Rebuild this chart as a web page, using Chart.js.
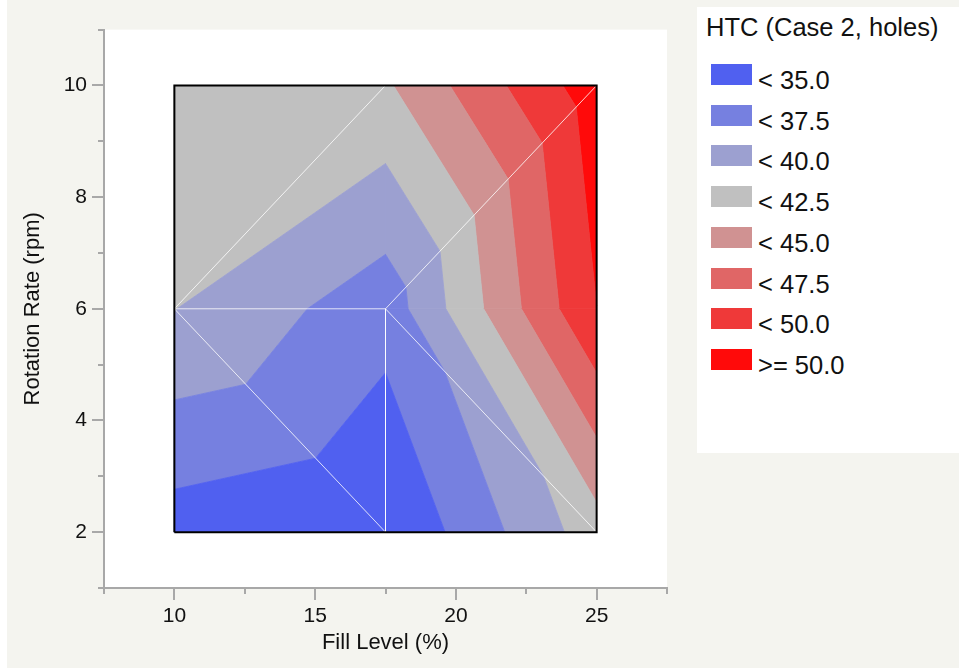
<!DOCTYPE html>
<html>
<head>
<meta charset="utf-8">
<title>HTC contour</title>
<script src="https://cdn.jsdelivr.net/npm/chart.js@4.4.1/dist/chart.umd.min.js"></script>
<style>
  html, body { margin: 0; padding: 0; width: 959px; height: 669px; overflow: hidden;
    background: #f4f4ef; font-family: "Liberation Sans", Arial, Helvetica, sans-serif; }
  #edgeL { position: absolute; left: 0; top: 0; width: 7px; height: 669px; background: #fff; }
  #edgeB { position: absolute; left: 0; top: 668px; width: 959px; height: 1px; background: #fff; }
  #wrap { position: absolute; left: 0; top: 0; width: 697px; height: 669px; }
  #legend { position: absolute; left: 697px; top: 7px; width: 262px; height: 446px; background: #fff; color: #111; }
  .lg-title { position: absolute; left: 9px; top: 8px; font-size: 25.5px; line-height: 25px; white-space: nowrap; }
  .lg-sw { position: absolute; left: 14px; width: 41px; height: 21px; }
  .lg-tx { position: absolute; left: 61px; font-size: 25.5px; line-height: 25px; white-space: nowrap; }
</style>
</head>
<body>
<div id="edgeL"></div>
<div id="edgeB"></div>
<div id="wrap"><canvas id="chart" width="697" height="669"></canvas></div>
<div id="legend"></div>
<script>
// Measured grid: fill level (%) across, rotation rate (rpm) down
const fillLevels = [10, 17.5, 25];
const rotationRates = [2, 6, 10];
const htcAt2rpm  = [33.8, 32.5, 41.35];
const htcAt6rpm  = [40.05, 36.0, 49.98];
const htcAt10rpm = [41.5, 42.15, 51.5];

// Contour bands
const contourLevels = [35, 37.5, 40, 42.5, 45, 47.5, 50];
const bandColors = ['#5060f0', '#7680e0', '#9ca0d0', '#c0c0c0', '#d09292', '#e06666', '#ef3939', '#ff0a0a'];

// Axis ticks
const xMajorTicks = [10, 15, 20, 25];
const xMinorTicks = [7.5, 12.5, 17.5, 22.5, 27.5];
const yMajorTicks = [2, 4, 6, 8, 10];
const yMinorTicks = [1, 3, 5, 7, 9, 11];

// Triangulation of the 3x3 grid (node = row * 3 + col) and the edges shown as mesh lines
const triangles = [[0, 1, 3], [1, 4, 3], [1, 2, 4], [2, 5, 4], [3, 4, 7], [3, 7, 6], [4, 5, 8], [4, 8, 7]];
const meshEdges = [[3, 7], [3, 4], [4, 1], [3, 1], [4, 2], [4, 8]];

const FONT = '"Liberation Sans", Arial, Helvetica, sans-serif';
const TEXT = '#111111';
const AXIS = '#a8a8a8';

const htcRows = [htcAt2rpm, htcAt6rpm, htcAt10rpm];
const nodes = [];
rotationRates.forEach((y, r) => fillLevels.forEach((x, c) => nodes.push({ x, y, z: htcRows[r][c] })));

// Keep the part of a polygon where z is on one side of a level (linear interpolation on edges)
function clipPoly(poly, lvl, keepAbove) {
  const out = [];
  const inside = p => keepAbove ? p.z >= lvl : p.z <= lvl;
  for (let i = 0; i < poly.length; i++) {
    const p = poly[i], q = poly[(i + 1) % poly.length];
    const pin = inside(p), qin = inside(q);
    if (pin) out.push(p);
    if (pin !== qin) {
      const t = (lvl - p.z) / (q.z - p.z);
      out.push({ x: p.x + t * (q.x - p.x), y: p.y + t * (q.y - p.y), z: lvl });
    }
  }
  return out;
}
function polyArea(poly) {
  let a = 0;
  for (let i = 0; i < poly.length; i++) {
    const p = poly[i], q = poly[(i + 1) % poly.length];
    a += p.x * q.y - q.x * p.y;
  }
  return Math.abs(a / 2);
}

const datasets = [];
triangles.forEach(tri => {
  const base = tri.map(i => nodes[i]);
  bandColors.forEach((color, b) => {
    let poly = base;
    if (b > 0) poly = clipPoly(poly, contourLevels[b - 1], true);
    if (b < contourLevels.length && poly.length) poly = clipPoly(poly, contourLevels[b], false);
    if (poly.length < 3 || polyArea(poly) < 1e-6) return;
    datasets.push({
      data: poly.concat([poly[0]]).map(p => ({ x: p.x, y: p.y })),
      backgroundColor: color,
      borderColor: color,
      borderWidth: 0.8,
      fill: 'shape',
      pointRadius: 0,
      order: 3
    });
  });
});

meshEdges.forEach(([a, b]) => {
  datasets.push({
    data: [{ x: nodes[a].x, y: nodes[a].y }, { x: nodes[b].x, y: nodes[b].y }],
    borderColor: 'rgba(255,255,255,0.78)',
    borderWidth: 1,
    fill: false,
    pointRadius: 0,
    order: 2
  });
});

// Frame around the measured region
const x0 = fillLevels[0], x1 = fillLevels[fillLevels.length - 1];
const y0 = rotationRates[0], y1 = rotationRates[rotationRates.length - 1];
datasets.push({
  data: [{ x: x0, y: y0 }, { x: x1, y: y0 }, { x: x1, y: y1 }, { x: x0, y: y1 }, { x: x0, y: y0 }],
  borderColor: '#000000',
  borderWidth: 2,
  borderJoinStyle: 'miter',
  fill: false,
  pointRadius: 0,
  order: 1
});

const panelBackground = {
  id: 'panelBackground',
  beforeDraw(chart) {
    const { ctx, chartArea: a } = chart;
    ctx.save();
    ctx.fillStyle = '#ffffff';
    ctx.fillRect(a.left, a.top, a.right - a.left, a.bottom - a.top);
    ctx.restore();
  }
};

const axisTickMarks = {
  id: 'axisTickMarks',
  afterDraw(chart) {
    const { ctx, scales: { x, y } } = chart;
    ctx.save();
    ctx.strokeStyle = AXIS;
    ctx.lineWidth = 2;
    const mark = (ax, ay, bx, by) => { ctx.beginPath(); ctx.moveTo(ax, ay); ctx.lineTo(bx, by); ctx.stroke(); };
    const xTick = (v, len) => { const p = Math.round(x.getPixelForValue(v)); mark(p, x.top, p, x.top + len); };
    const yTick = (v, len) => { const p = Math.round(y.getPixelForValue(v)); mark(y.right, p, y.right - len, p); };
    xMajorTicks.forEach(v => xTick(v, 12));
    xMinorTicks.forEach(v => xTick(v, 6));
    yMajorTicks.forEach(v => yTick(v, 12));
    yMinorTicks.forEach(v => yTick(v, 6));
    ctx.restore();
  }
};

new Chart(document.getElementById('chart'), {
  type: 'line',
  data: { datasets },
  plugins: [panelBackground, axisTickMarks],
  options: {
    responsive: false,
    devicePixelRatio: 1,
    animation: false,
    events: [],
    layout: { padding: { left: 0, top: 24, right: 30, bottom: 0 } },
    plugins: { legend: { display: false }, tooltip: { enabled: false } },
    scales: {
      x: {
        type: 'linear',
        min: 7.5,
        max: 27.5,
        afterBuildTicks: s => { s.ticks = xMajorTicks.map(v => ({ value: v })); },
        afterFit: s => { s.height = 81; },
        grid: { display: false, drawTicks: false },
        border: { display: true, color: AXIS, width: 2 },
        ticks: { padding: 16, color: TEXT, autoSkip: false, maxRotation: 0, font: { family: FONT, size: 21 } },
        title: { display: true, text: 'Fill Level (%)', color: TEXT, font: { family: FONT, size: 22 }, padding: { top: 0, bottom: 13 } }
      },
      y: {
        type: 'linear',
        min: 1,
        max: 11,
        afterBuildTicks: s => { s.ticks = yMajorTicks.map(v => ({ value: v })); },
        afterFit: s => { s.width = 104; },
        grid: { display: false, drawTicks: false },
        border: { display: true, color: AXIS, width: 2 },
        ticks: { padding: 17, color: TEXT, autoSkip: false, font: { family: FONT, size: 21 } },
        title: { display: true, text: 'Rotation Rate (rpm)', color: TEXT, font: { family: FONT, size: 22 }, padding: { top: 19.3, bottom: 0 } }
      }
    }
  }
});

// Legend panel
const legend = document.getElementById('legend');
const title = document.createElement('div');
title.className = 'lg-title';
title.textContent = 'HTC (Case 2, holes)';
legend.appendChild(title);
bandColors.forEach((color, i) => {
  const top = 57 + i * 40.71;
  const sw = document.createElement('div');
  sw.className = 'lg-sw';
  sw.style.top = top + 'px';
  sw.style.background = color;
  legend.appendChild(sw);
  const tx = document.createElement('div');
  tx.className = 'lg-tx';
  tx.style.top = (top + 4) + 'px';
  tx.textContent = i < contourLevels.length
    ? '< ' + contourLevels[i].toFixed(1)
    : '>= ' + contourLevels[contourLevels.length - 1].toFixed(1);
  legend.appendChild(tx);
});
</script>
</body>
</html>
